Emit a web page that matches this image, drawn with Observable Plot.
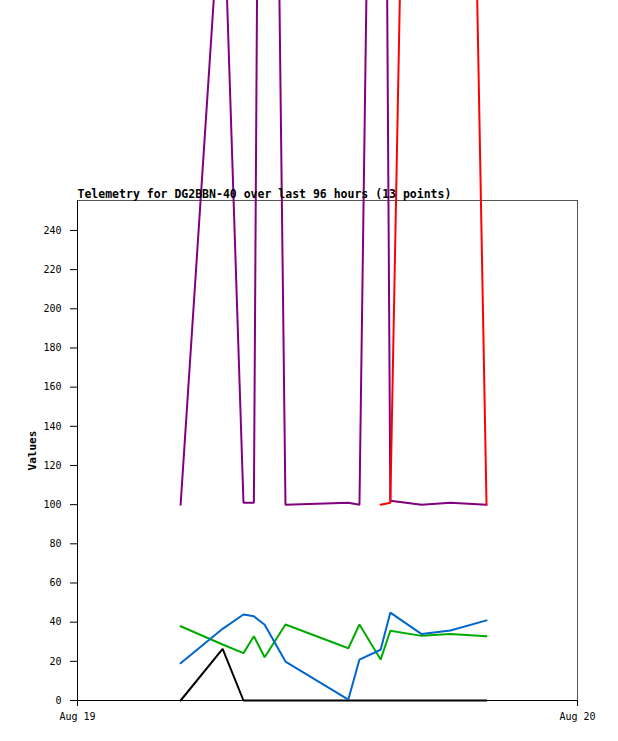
<!DOCTYPE html>
<html>
<head>
<meta charset="utf-8">
<script src="https://cdn.jsdelivr.net/npm/d3@7"></script>
<script src="https://cdn.jsdelivr.net/npm/@observablehq/plot@0.6"></script>
<style>
  body { margin: 0; background: #fff; }
  #chart svg { display: block; }
</style>
</head>
<body>
<div id="chart"></div>
<script>
// ---- data ----
const titleText = "Telemetry for DG2BBN-40 over last 96 hours (13 points)";
const yLabel = "Values";
const times = [
  "2024-08-19T04:57Z", "2024-08-19T06:58Z", "2024-08-19T07:58Z", "2024-08-19T08:28Z",
  "2024-08-19T08:59Z", "2024-08-19T09:59Z", "2024-08-19T13:00Z", "2024-08-19T13:32Z",
  "2024-08-19T14:33Z", "2024-08-19T15:01Z", "2024-08-19T16:31Z", "2024-08-19T17:54Z",
  "2024-08-19T19:38Z"
];
const blackSeries  = [0, 26.4, 0, 0, 0, 0, 0, 0, 0, 0, 0, 0, 0];
const greenSeries  = [37.9, 28.6, 24.2, 32.8, 22.1, 38.8, 26.7, 38.8, 20.9, 35.6, 33.0, 33.9, 32.8];
const blueSeries   = [19.0, 36.6, 43.9, 43.0, 38.7, 19.9, 0.5, 20.9, 25.9, 44.9, 33.9, 35.7, 40.9];
const purpleSeries = [100, 427, 101, 101, 990, 100, 101, 100, 890, 102, 100, 101, 100];
const redSeries    = [null, null, null, null, null, null, null, null, 100, 101, 950, 1100, 100];

const xDomain = ["2024-08-19T00:00Z", "2024-08-20T00:00Z"];
const xTicks  = ["2024-08-19T00:00Z", "2024-08-20T00:00Z"];
const xTickLabels = ["Aug 19", "Aug 20"];
const yDomain = [0, 255.3];
const yTicks  = [0, 20, 40, 60, 80, 100, 120, 140, 160, 180, 200, 220, 240];

const seriesList = [
  {name: "black",  values: blackSeries,  color: "#000000"},
  {name: "green",  values: greenSeries,  color: "#00aa00"},
  {name: "blue",   values: blueSeries,   color: "#0066cc"},
  {name: "purple", values: purpleSeries, color: "#800080"},
  {name: "red",    values: redSeries,    color: "#ff0000"}
];

const xTickDates = xTicks.map(d => new Date(d));
const rowsFor = vals => times.map((t, i) => ({t: new Date(t), v: vals[i]}));

const chart = Plot.plot({
  width: 618,
  height: 741,
  marginLeft: 77,
  marginRight: 41,
  marginTop: 200,
  marginBottom: 41,
  style: {fontFamily: "'DejaVu Sans Mono', monospace", fontSize: "10px", background: "#fff", color: "#000"},
  x: {type: "utc", domain: xDomain.map(d => new Date(d))},
  y: {domain: yDomain},
  marks: [
    Plot.frame({stroke: "#555"}),
    Plot.axisY({ticks: yTicks, tickSize: 7, tickPadding: 9, label: null, stroke: "#000"}),
    Plot.axisX({
      ticks: xTickDates, tickSize: 6, tickPadding: 6, label: null, stroke: "#000",
      tickFormat: d => xTickLabels[xTickDates.findIndex(t => +t === +d)]
    }),
    ...seriesList.map(s => Plot.line(rowsFor(s.values), {
      x: "t", y: "v", stroke: s.color, strokeWidth: 2, strokeLinejoin: "miter"
    })),
    Plot.ruleX([new Date(xDomain[0])], {stroke: "#000", strokeWidth: 1}),
    Plot.ruleY([0], {stroke: "#000", strokeWidth: 1}),
    Plot.text([titleText], {text: d => d, frameAnchor: "top-left", textAnchor: "start",
      lineAnchor: "bottom", dy: -3, fontWeight: "bold", fontSize: 11.5, fill: "#000"}),
    Plot.text([yLabel], {text: d => d, frameAnchor: "left", textAnchor: "middle", rotate: -90, dx: -45,
      fontWeight: "bold", fontSize: 11, fill: "#000"})
  ]
});
document.getElementById("chart").appendChild(chart);
</script>
</body>
</html>
